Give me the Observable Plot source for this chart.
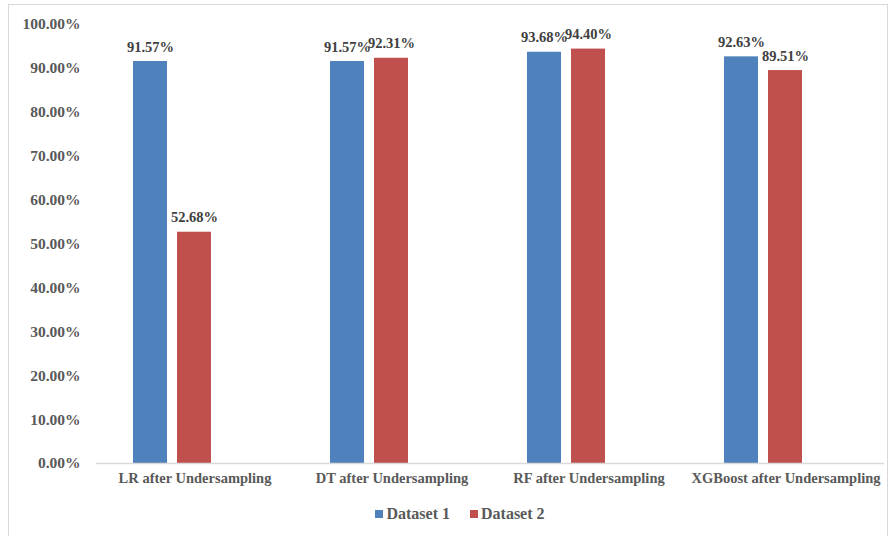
<!DOCTYPE html>
<html>
<head>
<meta charset="utf-8">
<script src="https://cdn.jsdelivr.net/npm/d3@7"></script>
<script src="https://cdn.jsdelivr.net/npm/@observablehq/plot@0.6"></script>
<style>
  html, body { margin: 0; padding: 0; background: #fff; }
  #wrap { position: relative; width: 890px; height: 536px; overflow: hidden; background: #fff; }
  #frame { position: absolute; left: 8px; top: 4px; width: 880px; height: 560px; border: 1.5px solid #d9d9d9; box-sizing: border-box; }
  #chart { position: absolute; left: 0; top: 0; }
  #legend { position: absolute; left: 0; top: 505px; width: 890px; box-sizing: border-box; padding-left: 30px;
            display: flex; justify-content: center; align-items: center;
            font-family: "Liberation Serif", serif; font-weight: bold; font-size: 16px; color: #595959; }
  .item { display: flex; align-items: center; margin: 0 10px; }
  .swatch { width: 8px; height: 8px; margin-right: 3px; }
</style>
</head>
<body>
<div id="wrap">
  <div id="frame"></div>
  <div id="chart"></div>
  <div id="legend"></div>
</div>
<script>
// Model accuracy after undersampling, per dataset
const categories = ["LR after Undersampling", "DT after Undersampling", "RF after Undersampling", "XGBoost after Undersampling"];
const dataset1 = [0.9157, 0.9157, 0.9368, 0.9263];
const dataset2 = [0.5268, 0.9231, 0.9440, 0.8951];
const seriesNames = ["Dataset 1", "Dataset 2"];
const seriesColors = ["#4F81BD", "#C0504D"];
const yTicks = [0, 0.1, 0.2, 0.3, 0.4, 0.5, 0.6, 0.7, 0.8, 0.9, 1.0];

const rows1 = categories.map((c, i) => ({category: c, value: dataset1[i]}));
const rows2 = categories.map((c, i) => ({category: c, value: dataset2[i]}));
const pct = d3.format(".2%");

const labelStyle = {fill: "#404040", fontSize: 14.5, fontWeight: "bold", lineAnchor: "middle"};

const plot = Plot.plot({
  width: 890,
  height: 490,
  marginTop: 24,
  marginBottom: 27,
  marginLeft: 96,
  marginRight: 6,
  style: {fontFamily: "'Liberation Serif', serif", fontWeight: "bold", color: "#595959", background: "transparent"},
  x: {domain: categories, padding: 0, label: null},
  y: {domain: [0, 1], label: null},
  marks: [
    Plot.barY(rows1, {x: "category", y: "value", fill: seriesColors[0], insetLeft: 37, insetRight: 126}),
    Plot.barY(rows2, {x: "category", y: "value", fill: seriesColors[1], insetLeft: 81, insetRight: 82}),
    Plot.text(rows1, {x: "category", y: "value", text: d => pct(d.value), dx: -44.5, dy: -14.5, ...labelStyle}),
    Plot.text(rows2, {x: "category", y: "value", text: d => pct(d.value), dx: -0.5, dy: -14.5, ...labelStyle}),
    Plot.ruleY([0], {stroke: "#d9d9d9", strokeWidth: 1.5}),
    Plot.axisY({ticks: yTicks, tickFormat: pct, tickSize: 0, tickPadding: 16, fontSize: 15.5, label: null}),
    Plot.axisX({tickSize: 0, tickPadding: 9, fontSize: 14.5, label: null})
  ]
});
document.getElementById("chart").appendChild(plot);

// Legend below the chart
const legend = document.getElementById("legend");
seriesNames.forEach((name, i) => {
  const item = document.createElement("div");
  item.className = "item";
  const sw = document.createElement("span");
  sw.className = "swatch";
  sw.style.background = seriesColors[i];
  const label = document.createElement("span");
  label.textContent = name;
  item.appendChild(sw);
  item.appendChild(label);
  legend.appendChild(item);
});
</script>
</body>
</html>
